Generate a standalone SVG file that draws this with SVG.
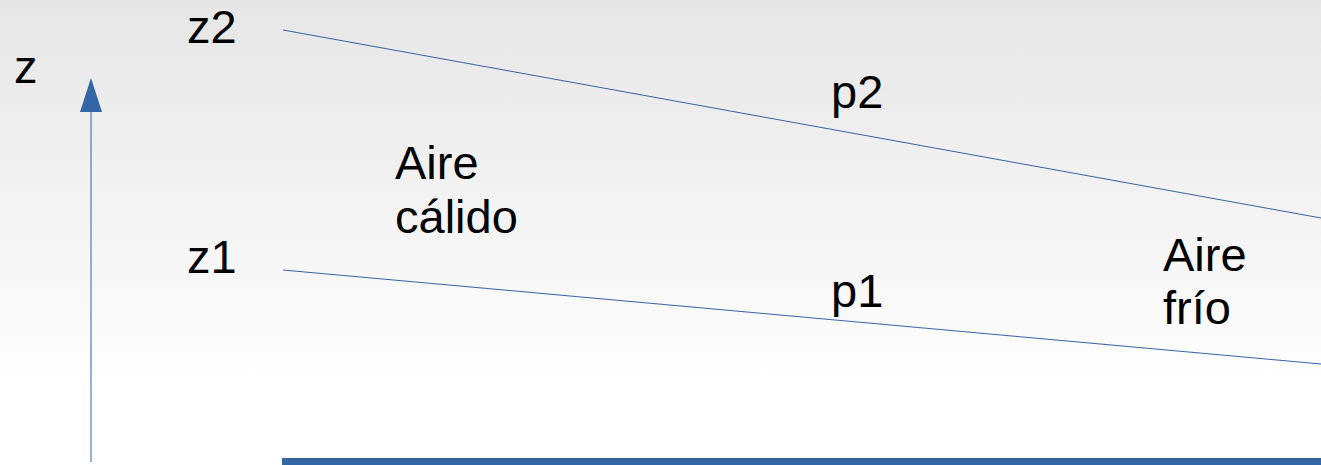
<svg xmlns="http://www.w3.org/2000/svg" width="1321" height="465" viewBox="0 0 1321 465">
<defs>
<linearGradient id="bg" x1="0" y1="0" x2="0" y2="1">
<stop offset="0" stop-color="#e6e6e6"/>
<stop offset="0.85" stop-color="#ffffff"/>
<stop offset="1" stop-color="#ffffff"/>
</linearGradient>
<style>
text{font-family:"Liberation Sans",Arial,sans-serif;font-size:47px;fill:#000}
.ln{stroke:#3465a4;stroke-width:1;fill:none}
</style>
</defs>
<rect width="1321" height="465" fill="url(#bg)"/>
<g id="connectors">
<line class="ln" x1="91" y1="462" x2="91" y2="112"/>
<path d="M80,112 L91,78 L102,112 Z" fill="#3465a4"/>
<line class="ln" x1="283" y1="30" x2="1321" y2="218"/>
<line class="ln" x1="283" y1="270" x2="1321" y2="364"/>
<rect x="282" y="458" width="1039" height="7" fill="#3465a4"/>
</g>
<g id="labels">
<text x="14" y="83">z</text>
<text x="187" y="43">z2</text>
<text x="187" y="273">z1</text>
<text x="831" y="108">p2</text>
<text x="831" y="307">p1</text>
<text x="395" y="179">Aire</text>
<text x="395" y="233">cálido</text>
<text x="1163" y="271">Aire</text>
<text x="1163" y="324">frío</text>
</g>
</svg>
